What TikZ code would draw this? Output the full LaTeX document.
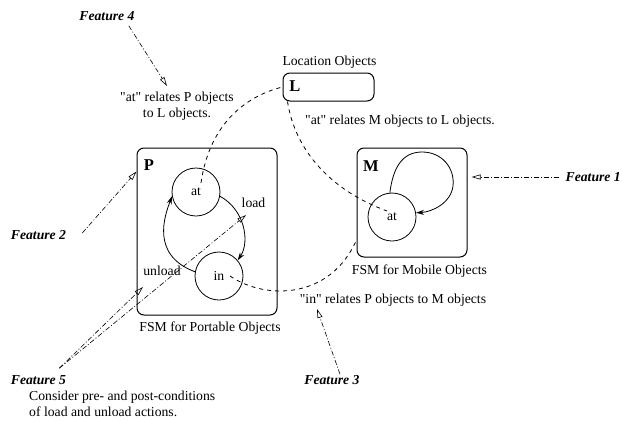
\documentclass[tikz,border=0pt]{standalone}
\usepackage{fontspec}
\setmainfont{Liberation Serif}
\usetikzlibrary{arrows.meta,calc}
\newcommand{\dq}{\textquotedbl}
\begin{document}
\begin{tikzpicture}[x=1pt,y=-1pt,
  txt/.style={font=\fontsize{13.7}{15.5}\selectfont, inner sep=0pt},
  feat/.style={font=\fontsize{13.7}{15.5}\selectfont\bfseries\itshape, inner sep=0pt},
  big/.style={font=\fontsize{16.5}{18}\selectfont\bfseries, inner sep=0pt},
  box/.style={draw, rounded corners=7pt, line width=1pt, inner sep=0pt},
  state/.style={draw, circle, minimum size=48pt, inner sep=0pt, line width=0.8pt, font=\fontsize{13.7}{15.5}\selectfont},
  trans/.style={line width=0.8pt, -{Stealth[length=8pt,width=5pt]}},
  rel/.style={dash pattern=on 4pt off 4pt, line width=0.8pt},
  featarr/.style={dash pattern=on 5pt off 2pt on 1pt off 2pt, line width=0.6pt, -{Triangle[open,length=9pt,width=5pt]}}
]
\useasboundingbox (0,0) rectangle (622,421);

% boxes
\node[box, minimum width=91pt, minimum height=28pt] (Lbox) at (328.5,87) {};
\node[big] (Llab) at (295,86) {L};
\node[txt] (Lcap) at (329.5,62) {Location Objects};

\node[box, minimum width=140pt, minimum height=167pt] (Pbox) at (207,231.5) {};
\node[big] (Plab) at (149,165) {P};
\node[txt] (Pcap) at (210,328) {FSM for Portable Objects};

\node[box, minimum width=110pt, minimum height=109pt] (Mbox) at (412,202.5) {};
\node[big] (Mlab) at (371,166) {M};
\node[txt] (Mcap) at (419.5,271) {FSM for Mobile Objects};

% states
\node[state] (Pat) at (196,192) {at};
\node[state] (Pin) at (219,276) {in};
\node[state] (Mat) at (392,217) {at};

% transitions
\draw[trans] (Pat.-10) .. controls (245,210) and (250,242) .. (Pin.40);
\draw[trans] (Pin.170) .. controls (150,255) and (165,215) .. (Pat.190);
\draw[trans] (Mat.95) .. controls (393,168) and (402,152) .. (422,152)
  .. controls (442,152) and (455,168) .. (453,186)
  .. controls (451,203) and (432,212) .. (Mat.10);

\node[txt] (loadlab) at (253.5,203) {load};
\node[txt] (unloadlab) at (162,271) {unload};

% relations
\draw[rel] ($(Pat.center)+(5,-9)$) .. controls (210,120) and (250,95) .. (Lbox.west);
\draw[rel] ($(Lbox.south west)+(5,0)$) .. controls (295,150) and (330,190) .. ($(Mat.center)+(-5,-6)$);
\draw[rel] ($(Pin.center)+(11,0)$) .. controls (265,300) and (330,300) .. (Mbox.214);

\node[txt, align=center] (relPL) at (177,106) {\dq at\dq\ relates P objects\\to L objects.};
\node[txt] (relML) at (400,121) {\dq at\dq\ relates M objects to L objects.};
\node[txt] (relPM) at (393,300) {\dq in\dq\ relates P objects to M objects};

% features
\node[feat] (F4) at (107,16) {Feature 4};
\node[feat, anchor=east] (F1) at (621,177) {Feature 1};
\node[feat] (F2) at (38.5,235) {Feature 2};
\node[feat] (F3) at (332,380) {Feature 3};
\node[feat] (F5) at (38.5,380) {Feature 5};
\node[txt, anchor=north west, align=left] (F5txt) at (29,391) {Consider pre- and post-conditions\\of load and unload actions.};

\coordinate (F4tip) at (167,86);
\coordinate (F3tip) at (317,309);
\coordinate (F5tipA) at (143,287);
\coordinate (F5tipB) at (246,215);

\draw[featarr] ($(F4.south east)+(-6,5)$) -- (F4tip);
\draw[featarr] ($(F1.west)+(-6,0)$) -- ($(Mbox.east)+(4,-25.5)$);
\draw[featarr] ($(F2.east)+(16,-2)$) -- ($(Pbox.north west)+(0,24)$);
\draw[featarr] ($(F3.north)+(8,-1)$) -- (F3tip);
\draw[featarr] ($(F5.north east)+(-7,-7)$) -- (F5tipA);
\draw[featarr] ($(F5.north east)+(-7,-7)$) -- (F5tipB);
\end{tikzpicture}
\end{document}
